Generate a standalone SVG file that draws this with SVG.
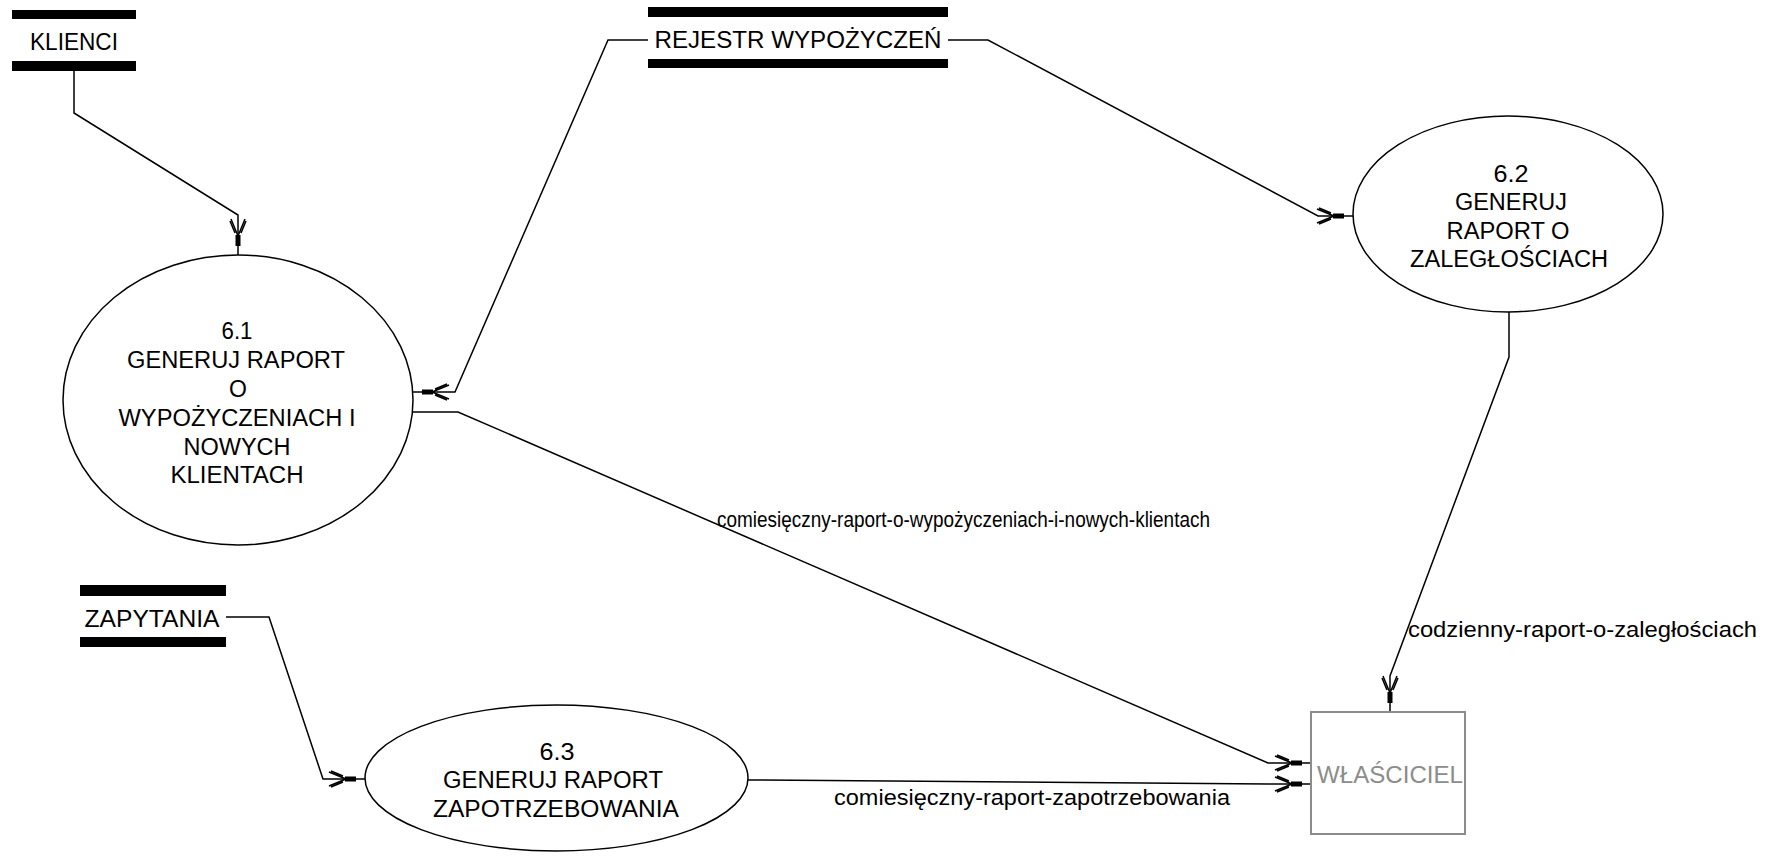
<svg xmlns="http://www.w3.org/2000/svg" width="1775" height="858" viewBox="0 0 1775 858">
<style>
  .bg { fill: #ffffff; }
  .bar { fill: #000000; }
  .proc { fill: none; stroke: #000000; stroke-width: 1.5; }
  .ext { fill: #ffffff; stroke: #8c8c8c; stroke-width: 2; }
  .t { font-family: "Liberation Sans", Arial, sans-serif; font-size: 23px; fill: #000000; text-anchor: middle; }
  .tg { font-family: "Liberation Sans", Arial, sans-serif; font-size: 23px; fill: #8c8c8c; text-anchor: middle; }
  .lbl { font-family: "Liberation Sans", Arial, sans-serif; font-size: 22px; fill: #000000; }
  .flow { fill: none; stroke: #000000; stroke-width: 1.5; marker-end: url(#arr); }
</style>
<defs>
  <marker id="arr" markerUnits="userSpaceOnUse" viewBox="-40 -10 42 20" refX="0" refY="0" markerWidth="42" markerHeight="20" orient="auto" overflow="visible">
    <rect x="-20" y="-2.5" width="11" height="5" fill="#000000"/>
    <path d="M-19,0 L-36,-7 M-19,0 L-36,7 M-22,-3 L-34,-8 M-22,3 L-34,8" fill="none" stroke="#000000" stroke-width="1.5"/>
  </marker>
</defs>
<rect class="bg" x="0" y="0" width="1775" height="858"/>

<g id="connectors">
  <path class="flow" d="M74,71 V113 L238,215 V255"/>
  <path class="flow" d="M648,40 H608 L455,392 H413"/>
  <path class="flow" d="M948,40 H988 L1318,216 H1353"/>
  <path class="flow" d="M226,617 H269 L323,779 H365"/>
  <path class="flow" d="M413,412 H458 L1268,763 H1311"/>
  <path class="flow" d="M748,780 L1268,784 H1311"/>
  <path class="flow" d="M1509,312 V357 L1390,676 V712"/>
  <text class="lbl" x="717" y="527" textLength="493" lengthAdjust="spacingAndGlyphs">comiesięczny-raport-o-wypożyczeniach-i-nowych-klientach</text>
  <text class="lbl" x="1408" y="637" textLength="349" lengthAdjust="spacingAndGlyphs">codzienny-raport-o-zaległościach</text>
  <text class="lbl" x="834" y="805" textLength="396" lengthAdjust="spacingAndGlyphs">comiesięczny-raport-zapotrzebowania</text>
</g>

<g id="klienci">
  <rect class="bar" x="12" y="10" width="124" height="9"/>
  <rect class="bar" x="12" y="61" width="124" height="10"/>
  <text class="t" x="74" y="50" textLength="88" lengthAdjust="spacingAndGlyphs">KLIENCI</text>
</g>

<g id="rejestr">
  <rect class="bar" x="648" y="7" width="300" height="10"/>
  <rect class="bar" x="648" y="59" width="300" height="9"/>
  <text class="t" x="798" y="48" textLength="287" lengthAdjust="spacingAndGlyphs">REJESTR WYPOŻYCZEŃ</text>
</g>

<g id="zapytania">
  <rect class="bar" x="80" y="585" width="146" height="11"/>
  <rect class="bar" x="80" y="637" width="146" height="10"/>
  <text class="t" x="152" y="627" textLength="135" lengthAdjust="spacingAndGlyphs">ZAPYTANIA</text>
</g>

<g id="p61">
  <ellipse class="proc" cx="238" cy="400" rx="175" ry="145"/>
  <text class="t" x="237" y="339" textLength="31" lengthAdjust="spacingAndGlyphs">6.1</text>
  <text class="t" x="236" y="368" textLength="218" lengthAdjust="spacingAndGlyphs">GENERUJ RAPORT</text>
  <text class="t" x="238" y="397">O</text>
  <text class="t" x="237" y="426" textLength="237" lengthAdjust="spacingAndGlyphs">WYPOŻYCZENIACH I</text>
  <text class="t" x="237" y="455" textLength="107" lengthAdjust="spacingAndGlyphs">NOWYCH</text>
  <text class="t" x="237" y="483" textLength="133" lengthAdjust="spacingAndGlyphs">KLIENTACH</text>
</g>

<g id="p62">
  <ellipse class="proc" cx="1508" cy="214" rx="155" ry="98"/>
  <text class="t" x="1511" y="182" textLength="35" lengthAdjust="spacingAndGlyphs">6.2</text>
  <text class="t" x="1511" y="210" textLength="112" lengthAdjust="spacingAndGlyphs">GENERUJ</text>
  <text class="t" x="1508" y="239" textLength="123" lengthAdjust="spacingAndGlyphs">RAPORT O</text>
  <text class="t" x="1509" y="267" textLength="198" lengthAdjust="spacingAndGlyphs">ZALEGŁOŚCIACH</text>
</g>

<g id="p63">
  <ellipse class="proc" cx="556.5" cy="778" rx="191.5" ry="73"/>
  <text class="t" x="557" y="760" textLength="35" lengthAdjust="spacingAndGlyphs">6.3</text>
  <text class="t" x="553" y="788" textLength="220" lengthAdjust="spacingAndGlyphs">GENERUJ RAPORT</text>
  <text class="t" x="556" y="817" textLength="246" lengthAdjust="spacingAndGlyphs">ZAPOTRZEBOWANIA</text>
</g>

<g id="wlasciciel">
  <rect class="ext" x="1311" y="712" width="154" height="122"/>
  <text class="tg" x="1390" y="783" textLength="146" lengthAdjust="spacingAndGlyphs">WŁAŚCICIEL</text>
</g>
</svg>
